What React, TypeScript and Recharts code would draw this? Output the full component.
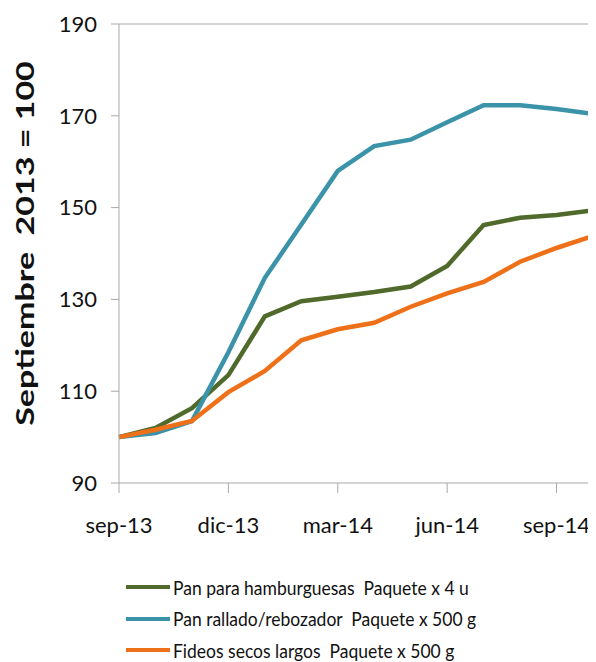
import React from 'react';
import { LineChart, Line, XAxis, YAxis, Legend, ReferenceLine } from 'recharts';

const months = ['sep-13', 'oct-13', 'nov-13', 'dic-13', 'ene-14', 'feb-14', 'mar-14', 'abr-14', 'may-14', 'jun-14', 'jul-14', 'ago-14', 'sep-14', 'oct-14'];
const panHamburguesas = [100, 102.0, 106.3, 113.5, 126.3, 129.6, 130.6, 131.6, 132.8, 137.3, 146.2, 147.8, 148.4, 149.4];
const panRallado = [100, 100.9, 103.5, 118.5, 134.7, 146.3, 158.0, 163.4, 164.8, 168.6, 172.3, 172.3, 171.5, 170.4];
const fideos = [100, 101.6, 103.5, 109.8, 114.4, 121.1, 123.5, 124.9, 128.4, 131.3, 133.8, 138.2, 141.2, 143.8];
const yTicks = [90, 110, 130, 150, 170, 190];

const seriesNames = [
  'Pan para hamburguesas  Paquete x 4 u',
  'Pan rallado/rebozador  Paquete x 500 g',
  'Fideos secos largos  Paquete x 500 g',
];
const seriesColors = ['#4f6a2a', '#3a93a8', '#ee7119'];

const data = months.map((m, i) => ({
  month: m,
  a: panHamburguesas[i],
  b: panRallado[i],
  c: fideos[i],
}));

const AXIS = '#a9a9a9';
const FONT = 'Lato, "Open Sans", sans-serif';

const LegendContent = () => (
  <div style={{ height: 100, position: 'relative', fontFamily: FONT }}>
    {seriesNames.map((name, i) => (
      <div
        key={name}
        style={{
          position: 'absolute',
          left: 118,
          top: 25 + i * 31.5 - 12,
          height: 24,
          display: 'flex',
          alignItems: 'center',
          whiteSpace: 'pre',
        }}
      >
        <div style={{ width: 44, height: 4, background: seriesColors[i], marginRight: 3 }} />
        <span style={{ fontSize: 17.5, color: '#111', whiteSpace: 'pre', display: 'inline-block', transform: 'scaleY(1.12)' }}>{name}</span>
      </div>
    ))}
  </div>
);

const YLabel = () => (
  <text
    transform="translate(16,235.5) rotate(-90) scale(1.36,1)"
    textAnchor="middle"
    dominantBaseline="central"
    fontFamily={FONT}
    fontWeight="bold"
    fontSize={25}
    fill="#111"
    style={{ whiteSpace: 'pre' }}
  >
    Septiembre  2013 = 100
  </text>
);

export default function App() {
  return (
    <div style={{ width: 588, height: 654 }}>
      <LineChart width={588} height={654} data={data} margin={{ top: 16, right: 3, left: 0, bottom: 0 }}>
        <XAxis
          dataKey="month"
          interval={2}
          height={79}
          tickSize={10}
          tickMargin={24}
          stroke={AXIS}
          tick={{ fontSize: 22, fill: '#111', fontFamily: FONT }}
        />
        <YAxis
          domain={[90, 190]}
          ticks={yTicks}
          width={111}
          tickSize={8}
          tickMargin={14}
          stroke={AXIS}
          tick={{ fontSize: 22, fill: '#111', fontFamily: FONT }}
          label={<YLabel />}
        />
        <ReferenceLine y={190} stroke={AXIS} strokeWidth={1} />
        <ReferenceLine x="oct-14" stroke={AXIS} strokeWidth={1} />
        <Legend verticalAlign="bottom" content={<LegendContent />} wrapperStyle={{ left: 0, width: 588, height: 100 }} />
        <Line dataKey="a" name={seriesNames[0]} stroke={seriesColors[0]} strokeWidth={4.5} dot={false} isAnimationActive={false} />
        <Line dataKey="b" name={seriesNames[1]} stroke={seriesColors[1]} strokeWidth={4.5} dot={false} isAnimationActive={false} />
        <Line dataKey="c" name={seriesNames[2]} stroke={seriesColors[2]} strokeWidth={4.5} dot={false} isAnimationActive={false} />
      </LineChart>
    </div>
  );
}
